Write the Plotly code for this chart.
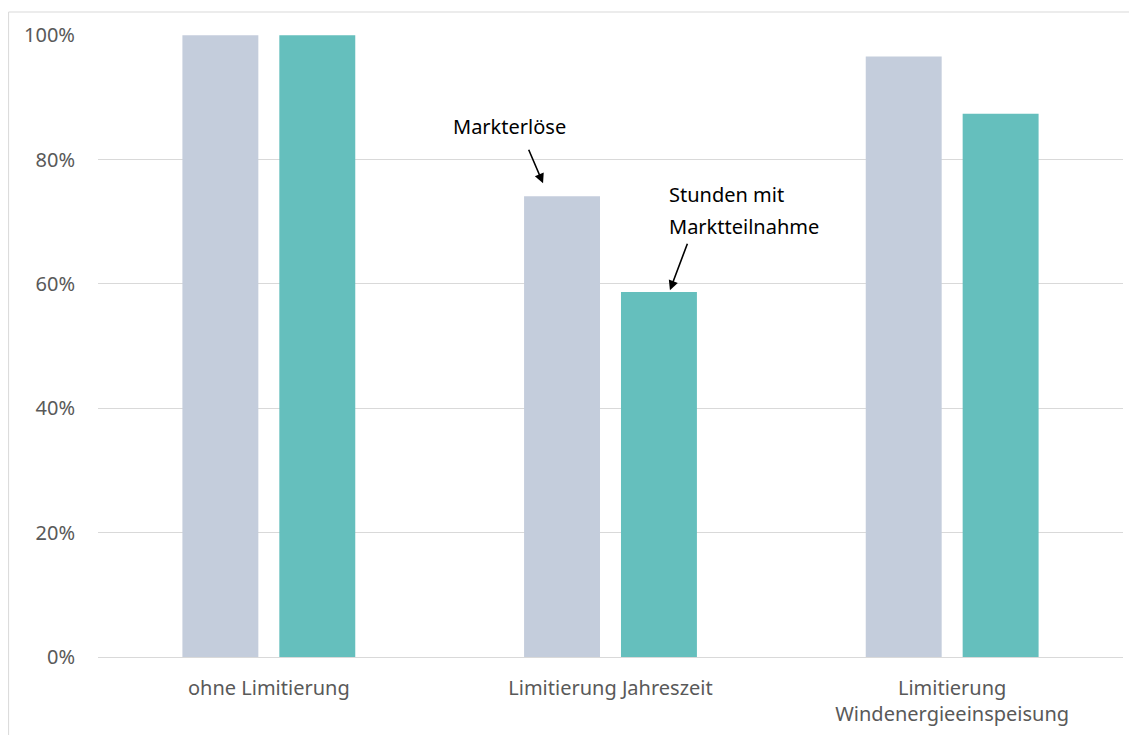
import plotly.graph_objects as go

categories = ["ohne Limitierung", "Limitierung Jahreszeit", "Limitierung<br>Windenergieeinspeisung"]
markterloese = [100, 74.1, 96.6]
stunden = [100, 58.7, 87.4]
tick_vals = [0, 20, 40, 60, 80, 100]
tick_text = ["0%", "20%", "40%", "60%", "80%", "100%"]

FONT = "Noto Sans"
GRAY = "#595959"

fig = go.Figure()
fig.add_trace(go.Bar(x=list(range(3)), y=markterloese, name="Markterlöse",
                     marker=dict(color="#C4CDDC", line=dict(width=0))))
fig.add_trace(go.Bar(x=list(range(3)), y=stunden, name="Stunden mit Marktteilnahme",
                     marker=dict(color="#65BFBD", line=dict(width=0))))

W, H = 1129, 735
ml, mr, mt, mb = 97.5, 5.5, 35, 78
pw = W - ml - mr
ph = H - mt - mb

fig.update_layout(
    width=W, height=H,
    margin=dict(l=ml, r=mr, t=mt, b=mb, pad=0),
    paper_bgcolor="white", plot_bgcolor="white",
    barmode="group", bargap=0.4327, bargroupgap=0.2165,
    showlegend=False,
    font=dict(family=FONT, size=20, color=GRAY),
    xaxis=dict(tickmode="array", tickvals=list(range(3)), ticktext=categories,
               range=[-0.5, 2.5], showgrid=False, zeroline=False, showline=False,
               ticks="", ticklabelstandoff=17, tickfont=dict(size=20, color=GRAY)),
    yaxis=dict(range=[0, 100.05], tickmode="array", tickvals=tick_vals, ticktext=tick_text,
               showgrid=True, gridcolor="#D9D9D9", gridwidth=1,
               zeroline=True, zerolinecolor="#D9D9D9", zerolinewidth=1,
               showline=False, ticks="", ticklabelstandoff=22,
               tickfont=dict(size=20, color=GRAY)),
)

def px_to_x(px):
    return (px - (ml + pw / 6)) / (pw / 3)

def px_to_y(py):
    return (H - mb - py) / ph * 100

# border
fig.add_shape(type="rect", xref="paper", yref="paper",
              x0=(8 - ml) / pw, x1=1.05, y0=-0.3, y1=(H - mb - 12) / ph,
              line=dict(color="#D9D9D9", width=1), fillcolor="rgba(0,0,0,0)", layer="below")

ann_font = dict(family=FONT, size=20, color="black")
fig.add_annotation(x=px_to_x(509.5), y=px_to_y(126), text="Markterlöse", showarrow=False,
                   font=ann_font, xanchor="center", yanchor="middle")
fig.add_annotation(x=px_to_x(667), y=px_to_y(194), text="Stunden mit", showarrow=False,
                   font=ann_font, xanchor="left", yanchor="middle")
fig.add_annotation(x=px_to_x(667), y=px_to_y(226), text="Marktteilnahme", showarrow=False,
                   font=ann_font, xanchor="left", yanchor="middle")
fig.add_annotation(x=px_to_x(543), y=px_to_y(183), ax=-15, ay=-35, text="", showarrow=True,
                   arrowhead=2, arrowsize=1.2, arrowwidth=1.6, arrowcolor="black")
fig.add_annotation(x=px_to_x(670), y=px_to_y(290), ax=18, ay=-48, text="", showarrow=True,
                   arrowhead=2, arrowsize=1.2, arrowwidth=1.6, arrowcolor="black")

fig.write_html("out.html")
